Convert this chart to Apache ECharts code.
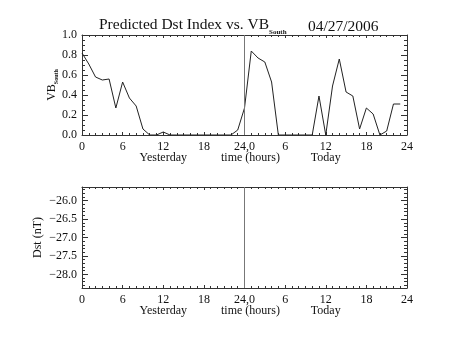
<!DOCTYPE html>
<html><head><meta charset="utf-8">
<script src="https://cdn.jsdelivr.net/npm/echarts@6/dist/echarts.min.js"></script>
<style>html,body{margin:0;padding:0;background:#fff}#c{width:453px;height:340px}</style>
</head><body><div id="c"></div>
<script>
// ---- data ----
const hours = [0,1,2,3,4,5,6,7,8,9,10,11,12,13,14,15,16,17,18,19,20,21,22,23,
               24,25,26,27,28,29,30,31,32,33,34,35,36,37,38,39,40,41,42,43,44,45,46,47];
const vbSouth = [0.82,0.71,0.58,0.55,0.56,0.27,0.53,0.37,0.29,0.06,0.0,0.0,0.03,0.0,0.0,0.0,0.0,0.0,0.0,0.0,0.0,0.0,0.0,0.05,
                 0.27,0.84,0.77,0.73,0.53,0.0,0.0,0.0,0.0,0.0,0.0,0.39,0.0,0.49,0.76,0.43,0.39,0.06,0.27,0.21,0.0,0.04,0.31,0.31];
const dstValues = []; // no predicted Dst drawn
const nowHour = 24;
const xTickValues = [0,6,12,18,24,30,36,42,48];
const xTickLabels = ['0','6','12','18','24,0','6','12','18','24'];
const dayCenters = [12,36];
const dayLabels = ['Yesterday','Today'];
const vbRange = [0,1];
const dstRange = [-28.37,-25.63];
const dstTicks = [-28.0,-27.5,-27.0,-26.5,-26.0];
const dstTickLabels = ['\u221228.0','\u221227.5','\u221227.0','\u221226.5','\u221226.0'];
const dstMinor = [-28.3,-28.2,-28.1,-27.9,-27.8,-27.7,-27.6,-27.4,-27.3,-27.2,-27.1,-26.9,-26.8,-26.7,-26.6,-26.4,-26.3,-26.2,-26.1,-25.9,-25.8,-25.7];

// ---- styles ----
const FONT = 'Liberation Serif';
const AX = '#333';
const TXT = '#111';
const LINE = {show:true, onZero:false, lineStyle:{color:AX,width:1}};

function xAxes(grid){
  return [
    {gridIndex:grid, type:'value', min:0, max:48, interval:6, position:'bottom',
     axisLine:LINE,
     axisTick:{inside:true,length:3,lineStyle:{color:AX}},
     minorTick:{show:true,splitNumber:6,length:2,lineStyle:{color:AX}},
     splitLine:{show:false},
     axisLabel:{margin:6,color:TXT,fontFamily:FONT,fontSize:12,
       formatter:v=>{const i=xTickValues.indexOf(v);return i>=0?xTickLabels[i]:'';}}},
    {gridIndex:grid, type:'value', min:0, max:48, interval:6, position:'top',
     axisLine:LINE,
     axisTick:{inside:true,length:3,lineStyle:{color:AX}},
     minorTick:{show:true,splitNumber:6,length:2,lineStyle:{color:AX}},
     splitLine:{show:false}, axisLabel:{show:false}},
    {gridIndex:grid, type:'value', min:0, max:48, position:'bottom',
     axisLine:{show:false,onZero:false}, axisTick:{show:false}, splitLine:{show:false},
     axisLabel:{customValues:dayCenters, margin:17, color:TXT, fontFamily:FONT, fontSize:12,
       formatter:v=>{const i=dayCenters.indexOf(v);return i>=0?dayLabels[i]:'';}},
     name:'time (hours)', nameLocation:'middle', nameGap:17, nameMoveOverlap:false,
     nameTextStyle:{color:TXT,fontFamily:FONT,fontSize:12,padding:[0,0,0,12],verticalAlign:'top'}}
  ];
}

const option = {
  animation:false,
  backgroundColor:'#fff',
  title:[
    {text:'{a|Predicted Dst Index vs. VB}{s|South}', left:99, top:16, padding:0,
     textStyle:{fontWeight:'normal',rich:{
       a:{fontFamily:FONT,fontSize:15.5,fontWeight:'normal',color:TXT,lineHeight:17,verticalAlign:'middle'},
       s:{fontFamily:FONT,fontSize:7,fontWeight:'bold',color:TXT,lineHeight:8,padding:[15,0,0,0],verticalAlign:'middle'}}}},
    {text:'04/27/2006', left:308, top:19, padding:0,
     textStyle:{fontFamily:FONT,fontSize:15.5,color:TXT,fontWeight:'normal',lineHeight:16}}
  ],
  grid:[
    {left:82, top:35, width:325, height:100},
    {left:82, top:187, width:325, height:101}
  ],
  xAxis:[...xAxes(0), ...xAxes(1)],
  yAxis:[
    {gridIndex:0, type:'value', min:vbRange[0], max:vbRange[1], interval:0.2, position:'left',
     axisLine:LINE,
     axisTick:{show:true,inside:true,length:6,lineStyle:{color:AX}},
     minorTick:{show:true,splitNumber:4,length:3,lineStyle:{color:AX}},
     splitLine:{show:false},
     axisLabel:{margin:5,color:TXT,fontFamily:FONT,fontSize:12,formatter:v=>v.toFixed(1)},
     name:'{a|VB}{s|South}', nameLocation:'middle', nameRotate:90, nameGap:24, nameMoveOverlap:false,
     nameTextStyle:{rich:{
       a:{fontFamily:FONT,fontSize:12,color:TXT,lineHeight:13,verticalAlign:'middle'},
       s:{fontFamily:FONT,fontSize:6,fontWeight:'bold',color:TXT,lineHeight:8,padding:[10,0,0,0],verticalAlign:'middle'}}}},
    {gridIndex:0, type:'value', min:vbRange[0], max:vbRange[1], interval:0.2, position:'right',
     axisLine:LINE,
     axisTick:{show:true,inside:true,length:6,lineStyle:{color:AX}},
     minorTick:{show:true,splitNumber:4,length:3,lineStyle:{color:AX}},
     splitLine:{show:false}, axisLabel:{show:false}},
    {gridIndex:1, type:'value', min:dstRange[0], max:dstRange[1], position:'left',
     axisLine:LINE,
     axisTick:{show:true,inside:true,length:6,customValues:dstTicks,lineStyle:{color:AX}},
     splitLine:{show:false},
     axisLabel:{margin:5,color:TXT,fontFamily:FONT,fontSize:12,customValues:dstTicks,
       formatter:v=>{const i=dstTicks.findIndex(t=>Math.abs(t-v)<1e-6);return i>=0?dstTickLabels[i]:'';}},
     name:'Dst (nT)', nameLocation:'middle', nameRotate:90, nameGap:38, nameMoveOverlap:false,
     nameTextStyle:{fontFamily:FONT,fontSize:12,color:TXT}},
    {gridIndex:1, type:'value', min:dstRange[0], max:dstRange[1], position:'right',
     axisLine:LINE,
     axisTick:{show:true,inside:true,length:6,customValues:dstTicks,lineStyle:{color:AX}},
     splitLine:{show:false}, axisLabel:{show:false}},
    {gridIndex:1, type:'value', min:dstRange[0], max:dstRange[1], position:'left',
     axisLine:{show:false,onZero:false},
     axisTick:{show:true,inside:true,length:3,customValues:dstMinor,lineStyle:{color:AX}},
     splitLine:{show:false}, axisLabel:{show:false}},
    {gridIndex:1, type:'value', min:dstRange[0], max:dstRange[1], position:'right',
     axisLine:{show:false,onZero:false},
     axisTick:{show:true,inside:true,length:3,customValues:dstMinor,lineStyle:{color:AX}},
     splitLine:{show:false}, axisLabel:{show:false}}
  ],
  series:[
    {type:'line', xAxisIndex:0, yAxisIndex:0, data:hours.map((h,i)=>[h,vbSouth[i]]),
     symbol:'none', lineStyle:{color:'#222',width:1}, silent:true,
     markLine:{silent:true, symbol:'none', label:{show:false},
       lineStyle:{color:'#777',width:1,type:'solid'}, data:[{xAxis:nowHour}]}},
    {type:'line', xAxisIndex:3, yAxisIndex:2, data:dstValues,
     symbol:'none', lineStyle:{color:'#222',width:1}, silent:true,
     markLine:{silent:true, symbol:'none', label:{show:false},
       lineStyle:{color:'#777',width:1,type:'solid'}, data:[{xAxis:nowHour}]}}
  ]
};
const chart = echarts.init(document.getElementById('c'), null, {renderer:'canvas'});
chart.setOption(option);
</script></body></html>
